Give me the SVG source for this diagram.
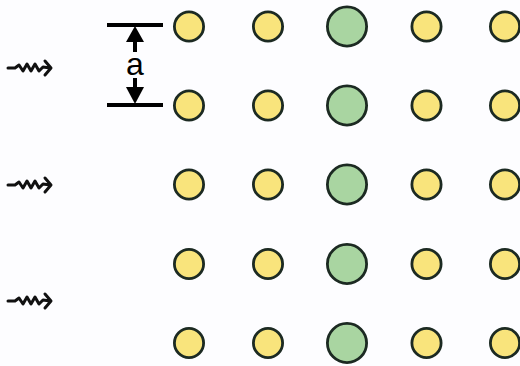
<svg xmlns="http://www.w3.org/2000/svg" width="520" height="366" viewBox="0 0 520 366">
<defs>
<style>
.y{fill:#f9e47c;stroke:#1c2a22;stroke-width:2.8}
.g{fill:#a9d5a1;stroke:#1c2a22;stroke-width:2.8}
.w{fill:none;stroke:#111;stroke-width:3;stroke-linejoin:round;stroke-linecap:round}
.bar{stroke:#000;stroke-width:4}
.lbl{font-family:"Liberation Sans",sans-serif;font-size:32px;fill:#000}
</style>
<path id="wave" class="w" d="M8,0 H15 L19,-3 L23,3 L27,-4 L31,3 L35,-4 L39,3 L43,-1 L50,0 M45,-7 L51,0 L45,7"/>
</defs>
<rect width="520" height="366" fill="#fdfdff"/>
<g id="connectors">
<use href="#wave" y="68"/>
<use href="#wave" y="185"/>
<use href="#wave" y="301"/>
</g>
<g id="dimension">
<line class="bar" x1="107" y1="25" x2="163" y2="25"/>
<line class="bar" x1="107" y1="105" x2="163" y2="105"/>
<polygon points="135,26 126,42 144,42" fill="#000"/>
<rect x="133" y="41" width="4" height="11" fill="#000"/>
<rect x="133" y="78" width="4" height="10" fill="#000"/>
<polygon points="135,104 126,87 144,87" fill="#000"/>
<text class="lbl" x="135" y="75" text-anchor="middle">a</text>
</g>
<g id="r1">
<circle class="y" cx="189" cy="26.5" r="14.6"/><circle class="y" cx="268" cy="26.5" r="14.6"/><circle class="g" cx="347" cy="26.5" r="19.6"/><circle class="y" cx="426.5" cy="26.5" r="14.6"/><circle class="y" cx="505" cy="26.5" r="14.6"/>
</g>
<g id="r2">
<circle class="y" cx="189" cy="105.5" r="14.6"/><circle class="y" cx="268" cy="105.5" r="14.6"/><circle class="g" cx="347" cy="105.5" r="19.6"/><circle class="y" cx="426.5" cy="105.5" r="14.6"/><circle class="y" cx="505" cy="105.5" r="14.6"/>
</g>
<g id="r3">
<circle class="y" cx="189" cy="184.5" r="14.6"/><circle class="y" cx="268" cy="184.5" r="14.6"/><circle class="g" cx="347" cy="184.5" r="19.6"/><circle class="y" cx="426.5" cy="184.5" r="14.6"/><circle class="y" cx="505" cy="184.5" r="14.6"/>
</g>
<g id="r4">
<circle class="y" cx="189" cy="264" r="14.6"/><circle class="y" cx="268" cy="264" r="14.6"/><circle class="g" cx="347" cy="264" r="19.6"/><circle class="y" cx="426.5" cy="264" r="14.6"/><circle class="y" cx="505" cy="264" r="14.6"/>
</g>
<g id="r5">
<circle class="y" cx="189" cy="343" r="14.6"/><circle class="y" cx="268" cy="343" r="14.6"/><circle class="g" cx="347" cy="343" r="19.6"/><circle class="y" cx="426.5" cy="343" r="14.6"/><circle class="y" cx="505" cy="343" r="14.6"/>
</g>
</svg>
